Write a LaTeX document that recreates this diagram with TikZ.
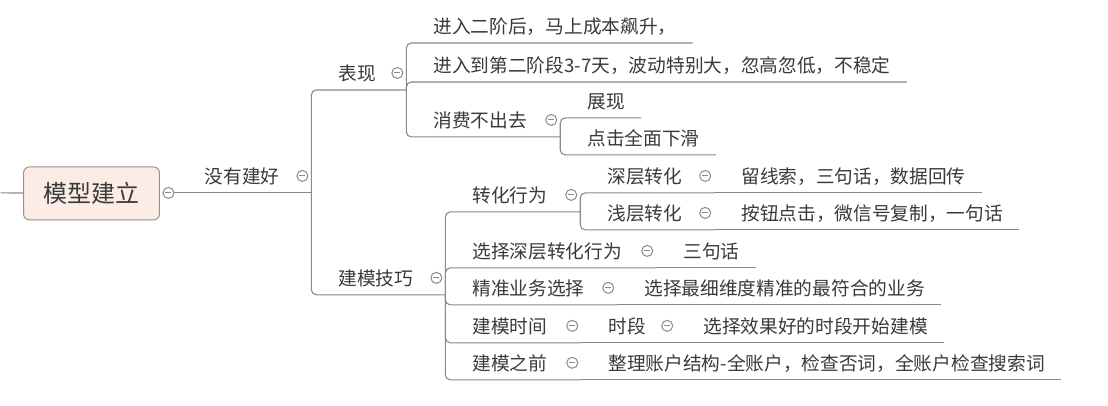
\documentclass[tikz,border=0pt]{standalone}
\usepackage{fontspec}
\usepackage{tikz}
\usetikzlibrary{positioning}
\newfontfamily\cjk{Noto Sans CJK SC}
\definecolor{ink}{HTML}{3A3A3A}
\definecolor{wire}{HTML}{8A8A8A}
\definecolor{rootfill}{HTML}{FBECE5}
\definecolor{rootline}{HTML}{9C8F8A}

\begin{document}
\begin{tikzpicture}[x=1pt,y=-1pt,root/.style={draw=rootline,fill=rootfill,rounded corners=6pt,line width=1pt,minimum width=136pt,minimum height=53pt,inner sep=0pt,font=\cjk\fontsize{24}{24}\selectfont,text=ink},topic/.style={anchor=south west,inner xsep=16pt,inner ysep=6pt,text height=15pt,text depth=3pt,font=\cjk\fontsize{18.7}{18.7}\selectfont,text=ink},fold/.style={circle,draw=wire,line width=1pt,minimum size=11pt,inner sep=0pt,path picture={\draw[wire,line width=1pt] ([xshift=-3pt]path picture bounding box.center)--([xshift=3pt]path picture bounding box.center);}},link/.style={draw=wire,line width=1.1pt,rounded corners=5pt}]
\path[fill=white] (0,0) rectangle (1108,406);
\node[root] (model) at (91,193.5) {模型建立};
\coordinate (edge) at (0,193);
\node[fold] (modelf) at (168,193) {};
\node[topic] (weak) at (188,193) {没有建好};
\node[fold] (weakf) at (302,176) {};
\coordinate (weakj) at (311,193);
\node[topic] (show) at (322,90) {表现};
\node[fold] (showf) at (397,73) {};
\coordinate (showj) at (406,90);
\node[topic] (show1) at (417,43) {进入二阶后，马上成本飙升，};
\node[topic] (show2) at (417,82) {进入到第二阶段3-7天，波动特别大，忽高忽低，不稳定};
\node[topic] (spend) at (417,137) {消费不出去};
\node[fold] (spendf) at (551,120) {};
\coordinate (spendj) at (560,137);
\node[topic] (spend1) at (571,118) {展现};
\node[topic] (spend2) at (571,155) {点击全面下滑};
\node[topic] (skill) at (322,295) {建模技巧};
\node[fold] (skillf) at (436,278) {};
\coordinate (skillj) at (445,295);
\node[topic] (conv) at (456,212) {转化行为};
\node[fold] (convf) at (571,195) {};
\coordinate (convj) at (580,212);
\node[topic] (deep) at (591,193) {深层转化};
\node[fold] (deepf) at (705,176) {};
\coordinate (deepj) at (714,193);
\node[topic] (deep1) at (725,193) {留线索，三句话，数据回传};
\node[topic] (flat) at (591,230) {浅层转化};
\node[fold] (flatf) at (705,213) {};
\coordinate (flatj) at (714,230);
\node[topic] (flat1) at (725,230) {按钮点击，微信号复制，一句话};
\node[topic] (pick) at (456,268) {选择深层转化行为};
\node[fold] (pickf) at (647,251) {};
\coordinate (pickj) at (656,268);
\node[topic] (pick1) at (667,268) {三句话};
\node[topic] (biz) at (456,305) {精准业务选择};
\node[fold] (bizf) at (608,288) {};
\coordinate (bizj) at (617,305);
\node[topic] (biz1) at (628,305) {选择最细维度精准的最符合的业务};
\node[topic] (time) at (456,343) {建模时间};
\node[fold] (timef) at (572,326) {};
\coordinate (timej) at (581,343);
\node[topic] (slot) at (592,343) {时段};
\node[fold] (slotf) at (667,326) {};
\coordinate (slotj) at (676,343);
\node[topic] (slot1) at (687,343) {选择效果好的时段开始建模};
\node[topic] (prep) at (456,380) {建模之前};
\node[fold] (prepf) at (572,363) {};
\coordinate (prepj) at (581,380);
\node[topic] (prep1) at (592,380) {整理账户结构-全账户，检查否词，全账户检查搜索词};
\draw[link] (edge) -- (model);
\draw[link] (modelf) -- (weakj);
\draw[link] (weakj) |- (showj);
\draw[link] (weakj) |- (skillj);
\draw[link] (showj) |- (show1.south east);
\draw[link] (showj) |- (show2.south east);
\draw[link] (showj) |- (spendj);
\draw[link] (spendj) |- (spend1.south east);
\draw[link] (spendj) |- (spend2.south east);
\draw[link] (skillj) |- (convj);
\draw[link] (skillj) |- (pickj);
\draw[link] (skillj) |- (bizj);
\draw[link] (skillj) |- (timej);
\draw[link] (skillj) |- (prepj);
\draw[link] (convj) |- (deepj);
\draw[link] (convj) |- (flatj);
\draw[link] (deepj) -- (deep1.south east);
\draw[link] (flatj) -- (flat1.south east);
\draw[link] (pickj) -- (pick1.south east);
\draw[link] (bizj) -- (biz1.south east);
\draw[link] (timej) -- (slotj);
\draw[link] (slotj) -- (slot1.south east);
\draw[link] (prepj) -- (prep1.south east);
\end{tikzpicture}
\end{document}
